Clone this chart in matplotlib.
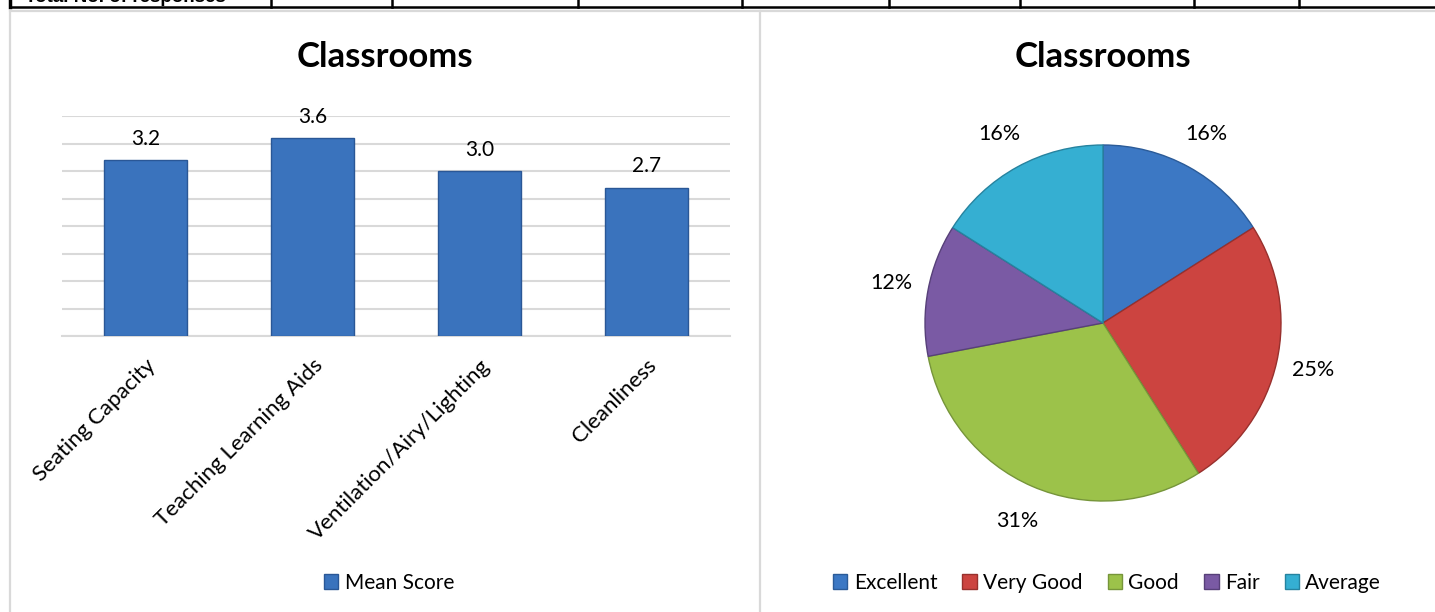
import numpy as np
import matplotlib.pyplot as plt
from matplotlib.lines import Line2D
from matplotlib.transforms import ScaledTranslation

plt.rcParams['font.family'] = ['Lato', 'DejaVu Sans']

# bar chart data
categories = ['Seating Capacity', 'Teaching Learning Aids', 'Ventilation/Airy/Lighting', 'Cleanliness']
mean_scores = [3.2, 3.6, 3.0, 2.7]

# pie chart data
ratings = ['Excellent', 'Very Good', 'Good', 'Fair', 'Average']
shares = [16, 25, 31, 12, 16]
pie_colors = ['#3c78c4', '#cc4440', '#9cc24a', '#7a5aa4', '#35afd2']
pie_edges = ['#2b5b98', '#98302d', '#76953a', '#574079', '#26839f']

W, H = 1435, 612
fig = plt.figure(figsize=(W / 100, H / 100), dpi=100)


def fx(x):
    return x / W


def fy(y):
    return 1 - y / H


# bit of the table above the charts
col_lines = [10, 271, 392, 578, 742, 889, 1020, 1194, 1299]
fig.add_artist(Line2D([fx(10), 1], [fy(7.3), fy(7.3)], color='black', lw=1.8))
for c in col_lines:
    fig.add_artist(Line2D([fx(c), fx(c)], [1, fy(7.3)], color='black', lw=1.8 if c > 10 else 2.5))
fig.text(fx(25), fy(2.5), 'Total No. of responses', fontsize=13.5, fontweight='bold',
         family=['Liberation Sans', 'DejaVu Sans'], va='baseline', ha='left')

# panel borders
border = '#d9d9d9'
fig.add_artist(Line2D([fx(10), 1], [fy(11), fy(11)], color=border, lw=1.6))
fig.add_artist(Line2D([fx(10), fx(10)], [fy(11), 0], color=border, lw=1.6))
fig.add_artist(Line2D([fx(760), fx(760)], [fy(11), 0], color=border, lw=1.6))

# ---- bar chart ----
ax1 = fig.add_axes([fx(62), fy(336), fx(730) - fx(62), (336 - 116) / H])
x = np.arange(len(categories))
bars = ax1.bar(x, mean_scores, width=0.5, color='#3a73bd', edgecolor='#2a5796',
               linewidth=1.0, zorder=3, label='Mean Score')
ax1.set_xlim(-0.5, 3.5)
ax1.set_ylim(0, 4)
ax1.set_yticks(np.arange(0, 4.01, 0.5))
ax1.tick_params(axis='y', left=False, labelleft=False)
ax1.yaxis.grid(True, color=border, linewidth=1.5, zorder=0)
ax1.set_axisbelow(True)
for s in ['top', 'right', 'left']:
    ax1.spines[s].set_visible(False)
ax1.spines['bottom'].set_color(border)
ax1.spines['bottom'].set_linewidth(1.5)
ax1.set_xticks(x)
ax1.set_xticklabels(categories, rotation=45, ha='right', va='top',
                    rotation_mode='anchor', fontsize=16)
ax1.tick_params(axis='x', length=0, pad=14)
for lab in ax1.get_xticklabels():
    lab.set_transform(lab.get_transform() + ScaledTranslation(0.0, 0, fig.dpi_scale_trans))
ax1.bar_label(bars, fmt='%.1f', padding=8, fontsize=15)

fig.text(fx(385), fy(57), 'Classrooms', fontsize=25, fontweight='bold', ha='center', va='center')

fig.legend(handles=[bars], labels=['Mean Score'], loc='center',
           bbox_to_anchor=(fx(389), fy(583)), frameon=False, fontsize=15,
           handlelength=0.7, handleheight=0.7, handletextpad=0.3)

# ---- pie chart ----
r = 178
ax2 = fig.add_axes([fx(1103 - r), fy(323 + r), 2 * r / W, 2 * r / H])
wedges, _, autotexts = ax2.pie(shares, colors=pie_colors, startangle=90, counterclock=False,
                               autopct='%1.0f%%', pctdistance=1.21,
                               wedgeprops=dict(linewidth=1.0))
for w, ec in zip(wedges, pie_edges):
    w.set_edgecolor(ec)
for t in autotexts:
    t.set_fontsize(15.5)
ax2.set_xlim(-1, 1)
ax2.set_ylim(-1, 1)
ax2.set_aspect('equal')

fig.text(fx(1103), fy(57), 'Classrooms', fontsize=25, fontweight='bold', ha='center', va='center')

fig.legend(handles=wedges, labels=ratings, loc='center', ncol=5,
           bbox_to_anchor=(fx(1107), fy(583)), frameon=False, fontsize=15,
           handlelength=0.7, handleheight=0.7, handletextpad=0.3, columnspacing=1.2)

fig.savefig('out.png', dpi=100)
